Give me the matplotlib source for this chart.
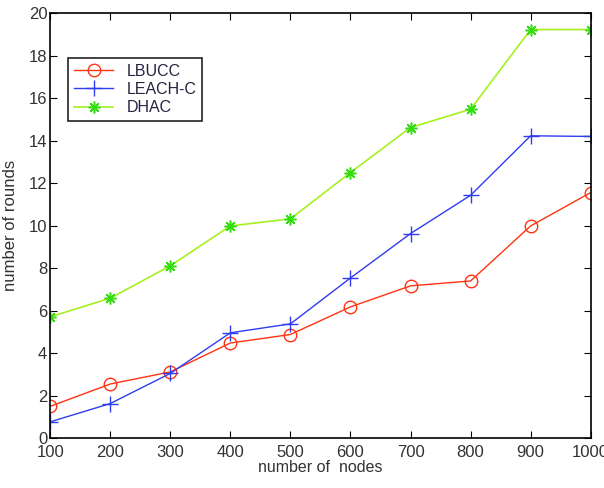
import matplotlib
matplotlib.use("Agg")
import matplotlib.pyplot as plt

nodes = [100, 200, 300, 400, 500, 600, 700, 800, 900, 1000]
lbucc = [1.5, 2.55, 3.12, 4.48, 4.88, 6.18, 7.17, 7.4, 9.99, 11.56]
leach_c = [0.77, 1.63, 3.05, 4.96, 5.38, 7.54, 9.63, 11.43, 14.23, 14.2]
dhac = [5.71, 6.59, 8.11, 9.99, 10.32, 12.5, 14.62, 15.48, 19.23, 19.23]

plt.rcParams['font.family'] = ['Liberation Sans', 'DejaVu Sans']

fig = plt.figure(figsize=(6.04, 4.88), dpi=100)
ax = fig.add_axes([0.083, 0.102, 0.895, 0.871])

ax.plot(nodes, lbucc, color='#ff3311', lw=1, marker='o', ms=9, mfc='none',
        mec='#ff3311', mew=1, label='LBUCC')
ax.plot(nodes, leach_c, color='#2f3cf0', lw=1, marker='+', ms=11, mew=1,
        label='LEACH-C')
# asterisk marker like matlab '*'
ax.plot(nodes, dhac, color='#a6f020', lw=1.2, marker=(8, 2, 0), ms=8.5,
        mec='#33dd11', mew=1.1, label='DHAC')

ax.set_xlim(100, 1000)
ax.set_ylim(0, 20)
ax.set_xticks(nodes)
ax.set_yticks(range(0, 21, 2))
ax.tick_params(direction='in', top=True, right=True, length=5, labelsize=12,
               labelcolor='#333333')
ax.tick_params(axis='x', pad=5)
ax.tick_params(axis='y', pad=2)
for s in ax.spines.values():
    s.set_linewidth(1.2)

ax.set_xlabel('number of  nodes', fontsize=11.5, color='#333333', labelpad=0)
ax.set_ylabel('number of rounds', fontsize=12, color='#333333', labelpad=8)

leg = ax.legend(loc='upper left', bbox_to_anchor=(0.033, 0.894), fontsize=11.5,
                fancybox=False, framealpha=1, edgecolor='#222222',
                borderpad=0.35, labelspacing=0.2, handlelength=2.5,
                handletextpad=0.8, borderaxespad=0)
leg.get_frame().set_linewidth(1.2)
for t in leg.get_texts():
    t.set_color('#2a2040')

fig.savefig('out.png', dpi=100)
